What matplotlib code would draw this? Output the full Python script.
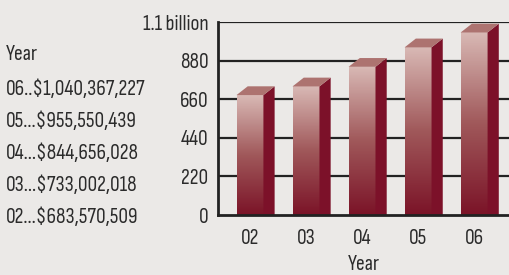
import numpy as np
import matplotlib
matplotlib.use("Agg")
import matplotlib.pyplot as plt
from matplotlib.patches import Polygon
from matplotlib.colors import LinearSegmentedColormap

years = ["02", "03", "04", "05", "06"]
values = [683.570509, 733.002018, 844.656028, 955.550439, 1040.367227]  # millions
legend_lines = ["06..$1,040,367,227", "05...$955,550,439", "04...$844,656,028",
                "03...$733,002,018", "02...$683,570,509"]
yticks = [0, 220, 440, 660, 880, 1100]
ytick_labels = ["0", "220", "440", "660", "880", "1.1 billion"]

plt.rcParams["font.family"] = ["Sofia Sans Condensed", "DejaVu Sans"]

bg = "#ebe9e7"
txt = "#2b2b2b"
fs = 15.5
fig = plt.figure(figsize=(5.1, 2.75), dpi=100, facecolor=bg)
ax = fig.add_axes([0.4275, 0.218, 0.5725, 0.702])
ax.set_facecolor(bg)

x = np.arange(len(years))
w = 0.48
dx, dy = 0.2, 50
grad = LinearSegmentedColormap.from_list("g", ["#7b1428", "#a0585a", "#d8b8b4"])

for yv in yticks[1:]:
    ax.axhline(yv, color="#222222", lw=1.6, zorder=1)

bars = ax.bar(x, values, width=w, color="none", zorder=3)
for b, v in zip(bars, values):
    x0 = b.get_x()
    im = ax.imshow(np.linspace(0, 1, 100).reshape(-1, 1), cmap=grad, aspect="auto",
                   origin="lower", extent=[x0, x0 + w, 0, v], zorder=3)
    im.set_clip_path(b)
    side = Polygon([[x0 + w, 0], [x0 + w + dx, 0], [x0 + w + dx, v + dy], [x0 + w, v]],
                   closed=True, facecolor="#7c1129", edgecolor="none", zorder=3)
    top = Polygon([[x0, v], [x0 + dx, v + dy], [x0 + w + dx, v + dy], [x0 + w, v]],
                  closed=True, facecolor="#ad7370", edgecolor="none", zorder=3)
    ax.add_patch(side)
    ax.add_patch(top)

ax.set_xlim(-0.57, 4.64)
ax.set_ylim(0, 1100)
for s in ["top", "right"]:
    ax.spines[s].set_visible(False)
for s in ["left", "bottom"]:
    ax.spines[s].set_color("#222222")
    ax.spines[s].set_linewidth(2)
    ax.spines[s].set_zorder(4)
ax.set_yticks(yticks)
ax.set_yticklabels(ytick_labels)
ax.set_xticks(x)
ax.set_xticklabels(years)
ax.tick_params(length=0, labelsize=fs, colors=txt)
ax.tick_params(axis="y", pad=7)
ax.tick_params(axis="x", pad=10)
ax.set_xlabel("Year", fontsize=fs, color=txt, labelpad=5)

fig.text(6 / 510, 1 - 60 / 275, "Year", fontsize=fs, color=txt, va="baseline")
for i, line in enumerate(legend_lines):
    fig.text(6 / 510, 1 - (95 + i * 31.9) / 275, line, fontsize=fs, color=txt, va="baseline")

fig.savefig("out.png", dpi=100, facecolor=bg)
